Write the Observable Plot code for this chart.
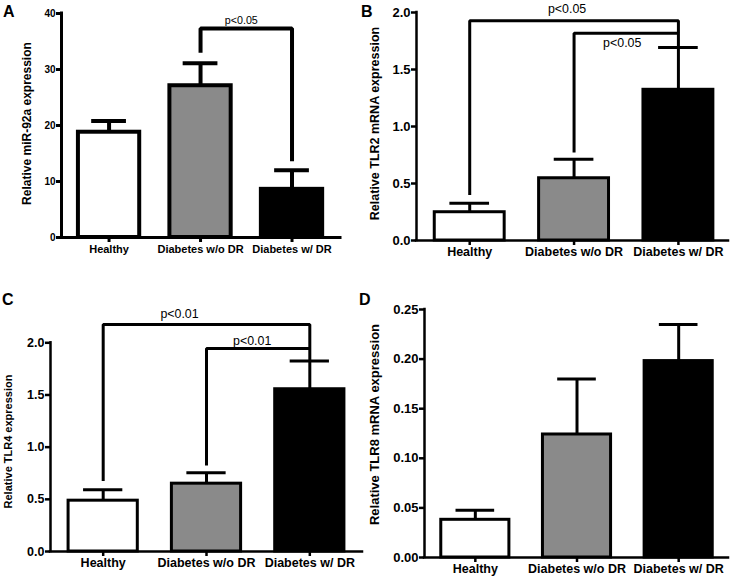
<!DOCTYPE html>
<html><head><meta charset="utf-8">
<script src="https://cdn.jsdelivr.net/npm/d3@7"></script>
<script src="https://cdn.jsdelivr.net/npm/@observablehq/plot@0.6"></script>
<style>
html,body{margin:0;padding:0;background:#fff;}
#root{position:relative;width:733px;height:579px;overflow:hidden;font-family:"Liberation Sans",Arial,sans-serif;background:#fff;}
.panel{position:absolute;}
.letter{position:absolute;font-weight:bold;font-size:16px;line-height:16px;color:#000;}
</style></head><body><div id="root"></div>
<script>
// ---- data ----
const categories = ["Healthy", "Diabetes w/o DR", "Diabetes w/ DR"];
const mir92aMean = [18.8, 27.1, 8.6];
const mir92aErr = [2.0, 4.0, 3.4];
const tlr2Mean = [0.248, 0.546, 1.322];
const tlr2Err = [0.079, 0.166, 0.371];
const tlr4Mean = [0.487, 0.650, 1.555];
const tlr4Err = [0.105, 0.105, 0.271];
const tlr8Mean = [0.038, 0.124, 0.198];
const tlr8Err = [0.0097, 0.056, 0.037];
const mir92aTicks = [0, 10, 20, 30, 40];
const tlr2Ticks = [0, 0.5, 1.0, 1.5, 2.0];
const tlr4Ticks = [0, 0.5, 1.0, 1.5, 2.0];
const tlr8Ticks = [0, 0.05, 0.10, 0.15, 0.20, 0.25];
const mir92aBrackets = [{from: 1, to: 2, top: 37.3, leftEnd: 33.0, rightEnd: 13.6, label: "p<0.05"}];
const tlr2Brackets = [
  {from: 0, to: 2, top: 1.927, leftEnd: 0.40, rightEnd: 1.818, label: "p<0.05"},
  {from: 1, to: 2, top: 1.818, leftEnd: 0.773, rightEnd: 1.70, label: "p<0.05"}
];
const tlr4Brackets = [
  {from: 0, to: 2, top: 2.176, leftEnd: 0.675, rightEnd: 1.945, label: "p<0.01"},
  {from: 1, to: 2, top: 1.945, leftEnd: 0.825, rightEnd: 1.83, label: "p<0.01"}
];
const tlr8Brackets = [];

// ---- styles ----
const barFills = ["#ffffff", "#8a8a8a", "#000000"];
const FONT = "'Liberation Sans', Arial, sans-serif";

function panel(o) {
  const rows = categories.map((c, i) => ({i, c, mean: o.mean[i], upper: o.mean[i] + o.err[i], fill: barFills[i]}));
  const pts = o.brackets.flatMap((b, k) => [
    {k, x: b.from, y: b.leftEnd}, {k, x: b.from, y: b.top},
    {k, x: b.to, y: b.top}, {k, x: b.to, y: b.rightEnd}
  ]);
  const x0 = o.xDomain[0];
  const yMaxTick = o.ticks[o.ticks.length - 1];
  const marks = [
    Plot.rectY(rows, {x1: d => d.i - 0.335, x2: d => d.i + 0.335, y1: 0, y2: "mean", fill: "fill", stroke: "#000", strokeWidth: o.sw}),
    Plot.ruleX(rows, {x: "i", y1: "mean", y2: "upper", stroke: "#000", strokeWidth: o.sw}),
    Plot.ruleY(rows, {x1: d => d.i - 0.19, x2: d => d.i + 0.19, y: "upper", stroke: "#000", strokeWidth: o.sw}),
    Plot.ruleY([0], {stroke: "#000", strokeWidth: o.asw, strokeLinecap: "square"}),
    Plot.ruleX([x0], {y1: 0, y2: yMaxTick, stroke: "#000", strokeWidth: o.asw, strokeLinecap: "square"}),
    Plot.axisY({ticks: o.ticks, tickFormat: o.fmt, tickSize: 5, tickPadding: 1, fontSize: o.yfs, stroke: "#000", strokeWidth: o.asw, label: null, fill: "#000"}),
    Plot.axisX({ticks: [0, 1, 2], tickFormat: i => categories[i], tickSize: 5, tickPadding: o.xpad, fontSize: o.xfs, stroke: "#000", strokeWidth: o.asw, label: null, fill: "#000"}),
    Plot.line(pts, {x: "x", y: "y", z: "k", stroke: "#000", strokeWidth: o.sw, strokeLinejoin: "miter", strokeLinecap: "butt"}),
    ...o.brackets.map((b, k) => Plot.text([b], {x: d => (d.from + d.to) / 2, y: "top", text: "label", dx: o.ldx[k], dy: o.ldy[k], fontWeight: "normal", fontSize: o.pfs, fill: "#000"})),
    Plot.text([o.ylabel], {frameAnchor: "left", textAnchor: "middle", lineAnchor: "middle", rotate: -90, dx: o.ylx, dy: o.yly, fontSize: o.ylfs, fontWeight: "bold", fill: "#000"})
  ];
  const svg = Plot.plot({
    width: o.width, height: o.height,
    marginLeft: o.ml, marginRight: o.mr, marginTop: o.mt, marginBottom: o.mb,
    x: {domain: o.xDomain},
    y: {domain: o.yDomain},
    color: {type: "identity"},
    style: {fontFamily: FONT, fontWeight: "bold", overflow: "visible", background: "transparent", color: "#000"},
    marks
  });
  svg.classList.add("panel");
  svg.style.left = o.left + "px";
  svg.style.top = o.top + "px";
  return svg;
}

const root = document.getElementById("root");
root.append(panel({
  left: 0, top: 0, width: 366, height: 290, ml: 61, mr: 26, mt: 13, mb: 53,
  xDomain: [-0.52, 2.53], yDomain: [0, 40], ticks: mir92aTicks, fmt: d3.format("d"),
  mean: mir92aMean, err: mir92aErr, brackets: mir92aBrackets, ldx: [-5], ldy: [-8],
  sw: 4, asw: 3, yfs: 10, xfs: 11, xpad: 2.5, pfs: 10.7,
  ylabel: "Relative miR-92a expression", ylx: -34, yly: -2, ylfs: 12
}));
root.append(panel({
  left: 366, top: 0, width: 367, height: 290, ml: 50, mr: 5, mt: 12, mb: 50,
  xDomain: [-0.51, 2.48], yDomain: [0, 2], ticks: tlr2Ticks, fmt: d3.format(".1f"),
  mean: tlr2Mean, err: tlr2Err, brackets: tlr2Brackets, ldx: [-7, -4], ldy: [-12, 10],
  sw: 3, asw: 2.5, yfs: 13, xfs: 12.5, xpad: 1.5, pfs: 12.4,
  ylabel: "Relative TLR2 mRNA expression", ylx: -42, yly: -3, ylfs: 12.5
}));
root.append(panel({
  left: 0, top: 290, width: 366, height: 289, ml: 50, mr: 4, mt: 21, mb: 28,
  xDomain: [-0.51, 2.51], yDomain: [0, 2.3], ticks: tlr4Ticks, fmt: d3.format(".1f"),
  mean: tlr4Mean, err: tlr4Err, brackets: tlr4Brackets, ldx: [-27, -6], ldy: [-10, -8],
  sw: 3, asw: 2.5, yfs: 12.5, xfs: 12.5, xpad: 1.5, pfs: 12.4,
  ylabel: "Relative TLR4 expression", ylx: -42, yly: 10, ylfs: 11
}));
root.append(panel({
  left: 366, top: 290, width: 367, height: 289, ml: 58, mr: 5, mt: 19, mb: 22,
  xDomain: [-0.5, 2.49], yDomain: [0, 0.25], ticks: tlr8Ticks, fmt: d3.format(".2f"),
  mean: tlr8Mean, err: tlr8Err, brackets: tlr8Brackets, ldx: [], ldy: [],
  sw: 3, asw: 2.5, yfs: 13, xfs: 12.5, xpad: 2, pfs: 12.4,
  ylabel: "Relative TLR8 mRNA expression", ylx: -50, yly: -9, ylfs: 13
}));

const letters = [
  {t: "A", x: 3, y: 3.5}, {t: "B", x: 361, y: 3.5},
  {t: "C", x: 2, y: 291.5}, {t: "D", x: 359, y: 291.5}
];
for (const L of letters) {
  const d = document.createElement("div");
  d.className = "letter";
  d.textContent = L.t;
  d.style.left = L.x + "px";
  d.style.top = L.y + "px";
  root.append(d);
}
</script>
</body></html>
